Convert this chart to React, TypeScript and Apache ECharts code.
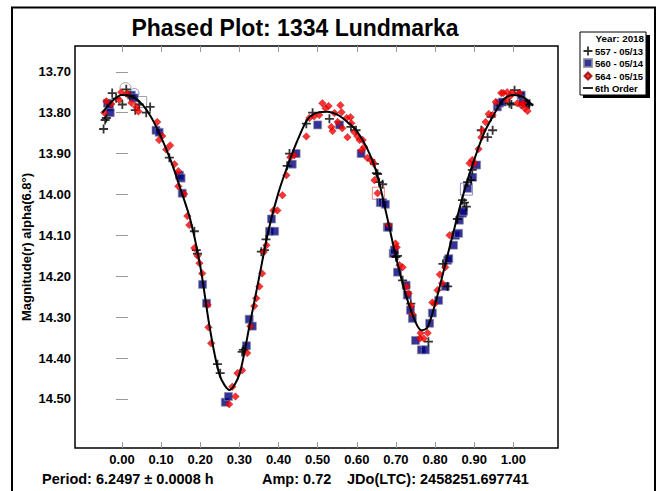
import React, { useEffect, useRef } from "react";
import * as echarts from "echarts";

const FONT = "'Liberation Sans', Arial, sans-serif";

const titleText = "Phased Plot: 1334 Lundmarka";
const yAxisName = "Magnitude(r) alpha(6.8°)";
const footerPeriod = "Period: 6.2497 ± 0.0008 h";
const footerAmp = "Amp: 0.72";
const footerJD = "JDo(LTC): 2458251.697741";
const legendYear = "Year: 2018";

const xTicks = [0, 0.1, 0.2, 0.3, 0.4, 0.5, 0.6, 0.7, 0.8, 0.9, 1.0];
const yTicks = [13.7, 13.8, 13.9, 14.0, 14.1, 14.2, 14.3, 14.4, 14.5];

const seriesNames = ["557 - 05/13", "560 - 05/14", "564 - 05/15", "6th Order"];

// Session 557 - 05/13 (black crosses): [phase, magnitude]
const s557 = [
  [-0.047, 13.84], [-0.04, 13.813], [-0.043, 13.818], [-0.025, 13.752], [-0.015, 13.765],
  [0.001, 13.78], [0.011, 13.743], [0.02, 13.76], [0.034, 13.794], [0.044, 13.78],
  [0.062, 13.8], [0.072, 13.786], [0.121, 13.91], [0.185, 14.09], [0.19, 14.136],
  [0.193, 14.145], [0.244, 14.415], [0.251, 14.437], [0.307, 14.385], [0.31, 14.38],
  [0.356, 14.14], [0.364, 14.136], [0.368, 14.11], [0.422, 13.93], [0.428, 13.9],
  [0.471, 13.827], [0.487, 13.8], [0.53, 13.815], [0.585, 13.835], [0.598, 13.843],
  [0.645, 13.925], [0.65, 13.948], [0.653, 13.95], [0.657, 13.97], [0.666, 13.975],
  [0.7, 14.153], [0.704, 14.15], [0.717, 14.21], [0.738, 14.267], [0.783, 14.36],
  [0.82, 14.17], [0.832, 14.225], [0.857, 14.06], [0.87, 14.014], [0.875, 14.02],
  [0.88, 14.03], [0.883, 13.97], [0.892, 13.965], [0.895, 13.94], [0.918, 13.843],
  [0.934, 13.86], [0.943, 13.81], [0.947, 13.843], [0.99, 13.777], [0.995, 13.78],
  [1.003, 13.745], [1.016, 13.753], [1.033, 13.777], [1.04, 13.78],
];

// Session 560 - 05/14 (navy squares)
const s560 = [
  [-0.037, 13.777], [-0.032, 13.786], [-0.03, 13.8], [0.024, 13.757], [0.031, 13.764],
  [0.087, 13.843], [0.095, 13.848], [0.147, 13.953], [0.151, 13.96], [0.154, 13.997],
  [0.206, 14.22], [0.216, 14.266], [0.264, 14.508], [0.272, 14.494], [0.318, 14.37],
  [0.325, 14.305], [0.333, 14.322], [0.377, 14.09], [0.382, 14.06], [0.39, 14.09],
  [0.435, 13.926], [0.445, 13.9], [0.5, 13.83], [0.556, 13.83], [0.611, 13.9],
  [0.66, 14.02], [0.666, 14.02], [0.673, 14.024], [0.678, 14.08], [0.681, 14.08],
  [0.693, 14.144], [0.696, 14.136], [0.704, 14.19], [0.726, 14.222], [0.729, 14.246],
  [0.737, 14.283], [0.742, 14.303], [0.75, 14.357], [0.765, 14.38], [0.775, 14.38],
  [0.786, 14.315], [0.793, 14.29], [0.809, 14.259], [0.826, 14.225], [0.832, 14.161],
  [0.835, 14.157], [0.847, 14.124], [0.852, 14.1], [0.86, 14.095], [0.862, 14.063],
  [0.87, 14.046], [0.873, 14.041], [0.883, 13.985], [0.896, 13.958], [0.906, 13.928],
  [0.959, 13.786], [0.964, 13.777], [0.972, 13.774], [1.02, 13.757], [1.024, 13.774],
  [1.033, 13.777],
];

// Session 564 - 05/15 (red diamonds)
const s564 = [
  [-0.045, 13.8], [-0.04, 13.772], [-0.027, 13.779], [-0.007, 13.769], [-0.002, 13.75],
  [0.014, 13.753], [0.024, 13.776], [0.036, 13.786], [0.042, 13.797], [0.09, 13.823],
  [0.095, 13.867], [0.103, 13.857], [0.113, 13.89], [0.123, 13.88], [0.134, 13.926],
  [0.144, 13.943], [0.144, 13.98], [0.159, 13.999], [0.167, 14.053], [0.172, 14.075],
  [0.185, 14.131], [0.193, 14.15], [0.198, 14.168], [0.205, 14.193], [0.219, 14.27],
  [0.221, 14.325], [0.228, 14.364], [0.274, 14.513], [0.282, 14.47], [0.29, 14.494],
  [0.295, 14.437], [0.307, 14.43], [0.32, 14.388], [0.328, 14.322], [0.338, 14.273],
  [0.343, 14.254], [0.351, 14.225], [0.358, 14.193], [0.362, 14.141], [0.369, 14.124],
  [0.387, 14.039], [0.397, 14.039], [0.41, 14.002], [0.42, 13.953], [0.43, 13.909],
  [0.44, 13.904], [0.471, 13.858], [0.479, 13.813], [0.491, 13.809], [0.504, 13.806],
  [0.512, 13.777], [0.52, 13.789], [0.528, 13.784], [0.535, 13.835], [0.538, 13.845],
  [0.543, 13.801], [0.551, 13.823], [0.558, 13.782], [0.561, 13.799], [0.563, 13.838],
  [0.574, 13.813], [0.576, 13.86], [0.584, 13.811], [0.586, 13.826], [0.594, 13.848],
  [0.602, 13.858], [0.607, 13.867], [0.612, 13.892], [0.615, 13.867], [0.619, 13.884],
  [0.627, 13.911], [0.636, 13.916], [0.643, 13.924], [0.645, 13.965], [0.653, 13.997],
  [0.681, 14.075], [0.699, 14.12], [0.702, 14.129], [0.709, 14.173], [0.717, 14.178],
  [0.727, 14.225], [0.732, 14.242], [0.739, 14.273], [0.742, 14.293], [0.761, 14.352],
  [0.763, 14.339], [0.771, 14.352], [0.781, 14.339], [0.793, 14.264], [0.799, 14.267],
  [0.806, 14.234], [0.812, 14.196], [0.818, 14.217], [0.826, 14.178], [0.837, 14.1],
  [0.888, 13.924], [0.895, 13.916], [0.9, 13.924], [0.911, 13.889], [0.918, 13.86],
  [0.921, 13.843], [0.929, 13.823], [0.937, 13.803], [0.947, 13.806], [0.955, 13.774],
  [0.969, 13.752], [0.974, 13.752], [0.982, 13.769], [0.984, 13.75], [0.992, 13.759],
  [0.997, 13.752], [1.01, 13.777], [1.015, 13.752], [1.02, 13.782], [1.025, 13.777],
  [1.029, 13.789], [1.036, 13.796],
];

// 6th order Fourier fit
const fitCurve = [
  [-0.05, 13.8], [-0.025, 13.772], [0.0, 13.757], [0.025, 13.76], [0.05, 13.778],
  [0.075, 13.812], [0.1, 13.86], [0.125, 13.918], [0.15, 13.988], [0.175, 14.063],
  [0.2, 14.175], [0.225, 14.33], [0.25, 14.443], [0.275, 14.478], [0.3, 14.44],
  [0.325, 14.325], [0.35, 14.205], [0.375, 14.085], [0.4, 13.995], [0.425, 13.925],
  [0.45, 13.864], [0.475, 13.815], [0.5, 13.8], [0.525, 13.798], [0.55, 13.805],
  [0.575, 13.822], [0.6, 13.845], [0.625, 13.885], [0.65, 13.945], [0.675, 14.045],
  [0.7, 14.153], [0.725, 14.245], [0.75, 14.312], [0.765, 14.332], [0.78, 14.326],
  [0.8, 14.268], [0.825, 14.175], [0.85, 14.08], [0.875, 13.99], [0.9, 13.915],
  [0.925, 13.85], [0.95, 13.805], [0.975, 13.768], [1.0, 13.757], [1.025, 13.762],
  [1.05, 13.783],
];

// Hollow reference markers
const hollowGray = [[0.009, 13.74]];
const hollowGraySquare = [[0.049, 13.774]];
const hollowRedSquare = [[0.655, 13.997]];
const hollowBlueSquare = [[0.88, 13.987]];
const hollowBlueCircle = [[0.032, 13.752]];

const CROSS = "path://M4,0H6V4H10V6H6V10H4V6H0V4H4Z";
const LINE_ICON = "path://M0,0M12,12M0,5H12V7H0Z";
const DIAMOND_ICON = "path://M0,0M10,10M5,1.5L8.5,5L5,8.5L1.5,5Z";
const SQUARE_ICON = "path://M0,0M10,10M1,1H9V9H1Z";
const CROSS_ICON = "path://M0,0M10,10M4.1,0.5H5.9V4.1H9.5V5.9H5.9V9.5H4.1V5.9H0.5V4.1H4.1Z";

export default function App() {
  const ref = useRef<HTMLDivElement>(null);
  useEffect(() => {
    if (!ref.current) return;
    const chart = echarts.init(ref.current, undefined, { renderer: "svg" });
    const tickStyle = { color: "#999", width: 1 };
    const hollow = (data: number[][], symbol: string, size: number, color: string) => ({
      type: "scatter",
      data,
      symbol,
      symbolSize: size,
      silent: true,
      itemStyle: { color: "none", borderColor: color, borderWidth: 1 },
      z: 1,
    });
    const footStyle = { verticalAlign: "middle", fontSize: 14.5, fontWeight: "bold", fill: "#000", fontFamily: FONT };
    chart.setOption({
      animation: false,
      backgroundColor: "#fff",
      textStyle: { fontFamily: FONT },
      title: {
        text: titleText,
        left: 290,
        textAlign: "center",
        top: 11,
        textStyle: { fontSize: 23, fontWeight: "bold", color: "#000", fontFamily: FONT },
      },
      grid: {
        left: 75,
        right: 102,
        top: 46,
        bottom: 43,
        show: true,
        borderColor: "#000",
        borderWidth: 1.5,
        backgroundColor: "#fff",
      },
      legend: {
        data: [
          { name: seriesNames[0], icon: CROSS_ICON },
          { name: seriesNames[1], icon: SQUARE_ICON },
          { name: seriesNames[2], icon: DIAMOND_ICON },
          { name: seriesNames[3], icon: LINE_ICON },
        ],
        orient: "vertical",
        left: 582,
        top: 46,
        padding: 0,
        itemGap: 1,
        itemWidth: 10,
        itemHeight: 10,
        selectedMode: false,
        textStyle: { fontSize: 9.5, fontWeight: "bold", color: "#000", fontFamily: FONT, padding: [0, 0, 0, -3] },
      },
      xAxis: [
        {
          type: "value",
          min: -0.12,
          max: 1.114,
          position: "bottom",
          axisLine: { show: false },
          splitLine: { show: false },
          axisTick: { show: true, inside: true, length: 6, lineStyle: tickStyle, customValues: xTicks },
          axisLabel: {
            customValues: xTicks,
            formatter: (v: number) => v.toFixed(2),
            fontSize: 13,
            fontWeight: "bold",
            color: "#000",
            fontFamily: FONT,
            margin: 5,
          },
        },
        {
          type: "value",
          min: -0.12,
          max: 1.114,
          position: "top",
          axisLine: { show: false },
          splitLine: { show: false },
          axisTick: { show: true, inside: true, length: 6, lineStyle: tickStyle, customValues: xTicks },
          axisLabel: { show: false },
        },
      ],
      yAxis: [
        {
          type: "value",
          inverse: true,
          min: 13.637,
          max: 14.62,
          position: "left",
          name: yAxisName,
          nameLocation: "middle",
          nameGap: 42,
          nameMoveOverlap: false,
          nameTextStyle: { fontSize: 13, fontWeight: "bold", color: "#000", fontFamily: FONT },
          axisLine: { show: false },
          splitLine: { show: false },
          axisTick: { show: true, inside: true, length: 6, lineStyle: tickStyle, customValues: yTicks },
          axisLabel: {
            customValues: yTicks,
            formatter: (v: number) => v.toFixed(2),
            fontSize: 13,
            fontWeight: "bold",
            color: "#000",
            fontFamily: FONT,
            margin: 4,
          },
        },
        {
          type: "value",
          inverse: true,
          min: 13.637,
          max: 14.62,
          position: "right",
          axisLine: { show: false },
          splitLine: { show: false },
          axisTick: { show: true, inside: true, length: 6, lineStyle: tickStyle, customValues: yTicks },
          axisLabel: { show: false },
        },
      ],
      series: [
        hollow(hollowGray, "circle", 11, "#888"),
        hollow(hollowGraySquare, "rect", 11, "#888"),
        hollow(hollowRedSquare, "rect", 12, "#ff6060"),
        hollow(hollowBlueSquare, "rect", 12, "#7070c0"),
        hollow(hollowBlueCircle, "circle", 9, "#7070c0"),
        {
          name: seriesNames[1],
          type: "scatter",
          data: s560,
          symbol: "rect",
          symbolSize: 8,
          itemStyle: { color: "#000080", borderColor: "#8a8a9a", borderWidth: 0.8 },
          z: 2,
        },
        {
          name: seriesNames[0],
          type: "scatter",
          data: s557,
          symbol: CROSS,
          symbolSize: 9,
          itemStyle: { color: "#000" },
          z: 3,
        },
        {
          name: seriesNames[2],
          type: "scatter",
          data: s564,
          symbol: "diamond",
          symbolSize: 7.5,
          itemStyle: { color: "#ff0000", borderColor: "#900000", borderWidth: 0.5 },
          z: 4,
        },
        {
          name: seriesNames[3],
          type: "line",
          data: fitCurve,
          smooth: 0.3,
          symbol: "none",
          lineStyle: { color: "#000", width: 2 },
          itemStyle: { color: "#000" },
          z: 5,
        },
      ],
      graphic: [
        {
          type: "polyline",
          shape: { points: [[12, 495], [12, 7.5], [655, 7.5], [655, 495]] },
          style: { stroke: "#000", lineWidth: 2, fill: "none" },
          silent: true,
          z: 10,
        },
        {
          type: "rect",
          shape: { x: 583, y: 35, width: 67, height: 63 },
          style: { fill: "#000" },
          silent: true,
          z: -1,
        },
        {
          type: "rect",
          shape: { x: 580, y: 32, width: 66, height: 63 },
          style: { fill: "#fff", stroke: "#000", lineWidth: 1 },
          silent: true,
          z: -1,
        },
        {
          type: "text",
          x: 644,
          y: 33,
          style: {
            text: legendYear,
            align: "right",
            verticalAlign: "top",
            fontSize: 9.8,
            fontWeight: "bold",
            fill: "#000",
            fontFamily: FONT,
          },
          silent: true,
        },
        { type: "text", x: 42, y: 479, style: { text: footerPeriod, ...footStyle }, silent: true },
        { type: "text", x: 262, y: 479, style: { text: footerAmp, ...footStyle }, silent: true },
        { type: "text", x: 347, y: 479, style: { text: footerJD, ...footStyle }, silent: true },
      ],
    });
    return () => chart.dispose();
  }, []);
  return (
    <div
      ref={ref}
      style={{ position: "fixed", left: 0, top: 0, width: 660, height: 491, background: "#fff" }}
    />
  );
}
